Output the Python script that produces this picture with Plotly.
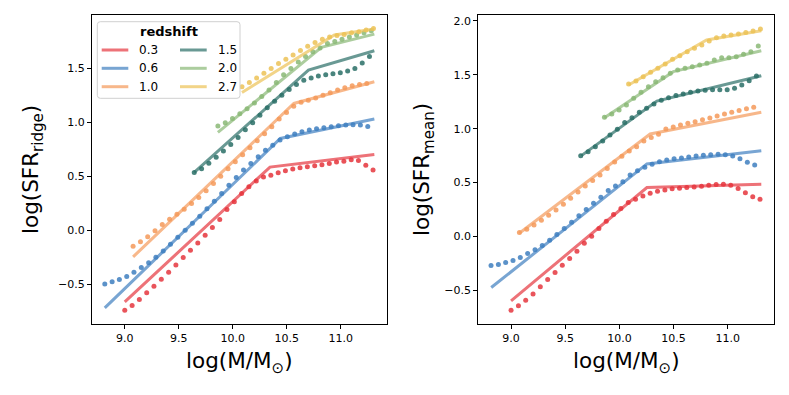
import plotly.graph_objects as go

# Target picture is 789x395; the HTML body adds an 8 px margin, so the figure
# itself is 8 px smaller and every pixel position below is given in page pixels.
PAGE_W, PAGE_H = 789, 395
BODY = 8
W, H = PAGE_W - BODY, PAGE_H - BODY

REDSHIFTS = ["0.3", "0.6", "1.0", "1.5", "2.0", "2.7"]
COLORS = ["#e6373f", "#3f7fc0", "#f59a5a", "#2a6f67", "#8ab976", "#edc357"]

# Stellar-mass bins (log M/Msun), one grid per redshift, shared by both panels
MASS_03 = [9.000, 9.068, 9.135, 9.203, 9.270, 9.338, 9.406, 9.473, 9.541, 9.608,
           9.676, 9.744, 9.811, 9.879, 9.946, 10.014, 10.082, 10.149, 10.217, 10.284,
           10.352, 10.420, 10.487, 10.555, 10.622, 10.690, 10.758, 10.825, 10.893, 10.960,
           11.028, 11.096, 11.163, 11.231, 11.298]
MASS_06 = [8.815, 8.883, 8.950, 9.018, 9.085, 9.153, 9.221, 9.288, 9.356, 9.423,
           9.491, 9.559, 9.626, 9.694, 9.761, 9.829, 9.897, 9.964, 10.032, 10.099,
           10.167, 10.235, 10.302, 10.370, 10.437, 10.505, 10.573, 10.640, 10.708, 10.775,
           10.843, 10.911, 10.978, 11.046, 11.113, 11.181, 11.249]
MASS_10 = [9.077, 9.145, 9.212, 9.280, 9.347, 9.415, 9.483, 9.550, 9.618, 9.685,
           9.753, 9.821, 9.888, 9.956, 10.023, 10.091, 10.159, 10.226, 10.294, 10.361,
           10.429, 10.497, 10.564, 10.632, 10.699, 10.767, 10.835, 10.902, 10.970, 11.037,
           11.105, 11.173, 11.240]
MASS_15 = [9.643, 9.711, 9.778, 9.846, 9.913, 9.981, 10.049, 10.116, 10.184, 10.251,
           10.319, 10.387, 10.454, 10.522, 10.589, 10.657, 10.725, 10.792, 10.860, 10.927,
           10.995, 11.063, 11.130, 11.198, 11.265]
MASS_20 = [9.862, 9.930, 9.997, 10.065, 10.132, 10.200, 10.268, 10.335, 10.403, 10.470,
           10.538, 10.606, 10.673, 10.741, 10.808, 10.876, 10.944, 11.011, 11.079, 11.146,
           11.214, 11.282]
MASS_27 = [10.085, 10.153, 10.220, 10.288, 10.355, 10.423, 10.491, 10.558, 10.626, 10.693,
           10.761, 10.829, 10.896, 10.964, 11.031, 11.099, 11.167, 11.234, 11.302]

# log(SFR_ridge) per mass bin (left panel, dots)
RIDGE_03 = [-0.742, -0.699, -0.643, -0.581, -0.519, -0.455, -0.390, -0.322, -0.253, -0.186,
            -0.118, -0.046, 0.025, 0.099, 0.192, 0.263, 0.340, 0.402, 0.457, 0.494,
            0.510, 0.532, 0.550, 0.566, 0.578, 0.587, 0.597, 0.606, 0.619, 0.631,
            0.640, 0.652, 0.646, 0.603, 0.557]
RIDGE_06 = [-0.498, -0.479, -0.457, -0.430, -0.390, -0.346, -0.303, -0.250, -0.192, -0.130,
            -0.065, 0.000, 0.065, 0.130, 0.198, 0.269, 0.340, 0.417, 0.489, 0.557,
            0.619, 0.680, 0.742, 0.788, 0.835, 0.866, 0.891, 0.912, 0.928, 0.940,
            0.949, 0.958, 0.967, 0.974, 0.977, 0.974, 0.962]
RIDGE_10 = [-0.148, -0.108, -0.062, -0.006, 0.053, 0.102, 0.148, 0.195, 0.247, 0.303,
            0.365, 0.433, 0.500, 0.570, 0.635, 0.700, 0.765, 0.830, 0.895, 0.960,
            1.030, 1.090, 1.150, 1.185, 1.205, 1.225, 1.250, 1.275, 1.300, 1.320,
            1.340, 1.350, 1.360]
RIDGE_15 = [0.535, 0.570, 0.620, 0.675, 0.735, 0.795, 0.860, 0.930, 0.995, 1.065,
            1.135, 1.195, 1.250, 1.305, 1.350, 1.390, 1.410, 1.430, 1.440, 1.450,
            1.460, 1.475, 1.500, 1.550, 1.610]
RIDGE_20 = [0.965, 0.995, 1.035, 1.080, 1.125, 1.180, 1.240, 1.300, 1.370, 1.440,
            1.500, 1.560, 1.610, 1.655, 1.690, 1.730, 1.750, 1.770, 1.790, 1.810,
            1.830, 1.850]
RIDGE_27 = [1.330, 1.370, 1.410, 1.455, 1.500, 1.545, 1.585, 1.625, 1.665, 1.705,
            1.740, 1.770, 1.790, 1.805, 1.815, 1.830, 1.840, 1.855, 1.870]

# log(SFR_mean) per mass bin (right panel, dots)
MEAN_03 = [-0.682, -0.642, -0.589, -0.531, -0.466, -0.398, -0.333, -0.265, -0.204, -0.135,
           -0.061, 0.004, 0.074, 0.142, 0.204, 0.259, 0.315, 0.346, 0.377, 0.402,
           0.420, 0.432, 0.442, 0.448, 0.454, 0.460, 0.467, 0.476, 0.482, 0.485,
           0.476, 0.445, 0.407, 0.370, 0.346]
MEAN_06 = [-0.268, -0.259, -0.241, -0.222, -0.194, -0.157, -0.123, -0.083, -0.033, 0.019,
           0.074, 0.133, 0.194, 0.250, 0.309, 0.365, 0.426, 0.469, 0.509, 0.571,
           0.611, 0.642, 0.670, 0.694, 0.710, 0.722, 0.729, 0.738, 0.747, 0.754,
           0.759, 0.763, 0.759, 0.747, 0.722, 0.689, 0.664]
MEAN_10 = [0.037, 0.068, 0.108, 0.152, 0.198, 0.247, 0.300, 0.355, 0.414, 0.469,
           0.519, 0.570, 0.630, 0.690, 0.745, 0.794, 0.833, 0.886, 0.917, 0.948,
           0.997, 1.016, 1.034, 1.050, 1.065, 1.083, 1.099, 1.118, 1.136, 1.152,
           1.167, 1.185, 1.198]
MEAN_15 = [0.750, 0.787, 0.833, 0.886, 0.942, 0.994, 1.056, 1.102, 1.152, 1.189,
           1.229, 1.263, 1.287, 1.306, 1.321, 1.337, 1.349, 1.356, 1.361, 1.361,
           1.361, 1.374, 1.405, 1.444, 1.488]
MEAN_20 = [1.106, 1.136, 1.173, 1.219, 1.281, 1.337, 1.389, 1.435, 1.472, 1.513,
           1.543, 1.559, 1.574, 1.590, 1.605, 1.636, 1.657, 1.657, 1.667, 1.689,
           1.713, 1.765]
MEAN_27 = [1.414, 1.442, 1.481, 1.522, 1.559, 1.599, 1.642, 1.676, 1.713, 1.744,
           1.775, 1.812, 1.843, 1.858, 1.867, 1.877, 1.892, 1.904, 1.923]

# broken power-law fits: (start, break, end) in mass and SFR
RIDGE_FIT_X = [[9.000, 10.344, 11.31], [8.815, 10.440, 11.31], [9.077, 10.565, 11.31],
               [9.643, 10.700, 11.31], [9.862, 10.820, 11.31], [10.085, 10.940, 11.31]]
RIDGE_FIT_Y = [[-0.665, 0.585, 0.702], [-0.720, 0.850, 1.030], [-0.248, 1.175, 1.376],
               [0.535, 1.484, 1.663], [0.906, 1.695, 1.818], [1.277, 1.810, 1.865]]
MEAN_FIT_X = [[9.000, 10.254, 11.31], [8.817, 10.254, 11.31], [9.076, 10.284, 11.31],
              [9.649, 10.346, 11.31], [9.862, 10.498, 11.31], [10.085, 10.805, 11.31]]
MEAN_FIT_Y = [[-0.595, 0.454, 0.485], [-0.472, 0.673, 0.796], [0.031, 0.951, 1.152],
              [0.750, 1.256, 1.490], [1.100, 1.528, 1.722], [1.405, 1.821, 1.907]]

MASSES = [MASS_03, MASS_06, MASS_10, MASS_15, MASS_20, MASS_27]
RIDGE = [RIDGE_03, RIDGE_06, RIDGE_10, RIDGE_15, RIDGE_20, RIDGE_27]
MEAN = [MEAN_03, MEAN_06, MEAN_10, MEAN_15, MEAN_20, MEAN_27]

X_TICKS = [9.0, 9.5, 10.0, 10.5, 11.0]
FONT = "DejaVu Sans"
LINE_ALPHA = 0.7
DOT_ALPHA = 0.85


def fx(px):
    # page pixel -> paper fraction
    return (px - BODY) / W


def fy(py):
    return 1 - (py - BODY) / H


fig = go.Figure()

# Draw each redshift: fitted line first, then the binned dots on top
panels = [("x", "y", RIDGE, RIDGE_FIT_X, RIDGE_FIT_Y),
          ("x2", "y2", MEAN, MEAN_FIT_X, MEAN_FIT_Y)]
for xa, ya, values, fit_x, fit_y in panels:
    for i, z in enumerate(REDSHIFTS):
        fig.add_trace(go.Scatter(
            x=fit_x[i], y=fit_y[i], mode="lines", xaxis=xa, yaxis=ya,
            line=dict(color=COLORS[i], width=3), opacity=LINE_ALPHA,
            showlegend=False, name=z,
        ))
        fig.add_trace(go.Scatter(
            x=MASSES[i], y=values[i], mode="markers", xaxis=xa, yaxis=ya,
            marker=dict(color=COLORS[i], size=5, line=dict(width=0)),
            opacity=DOT_ALPHA, showlegend=False, name=z,
        ))

axis_style = dict(
    showline=True, mirror=True, linecolor="black", linewidth=1,
    ticks="outside", ticklen=3.5, tickwidth=1, tickcolor="black",
    showgrid=False, zeroline=False, tickformat=".1f",
    tickfont=dict(family=FONT, size=11, color="black"),
)

fig.update_layout(
    width=W, height=H,
    margin=dict(l=0, r=0, t=0, b=0),
    paper_bgcolor="white", plot_bgcolor="white",
    font=dict(family=FONT, color="black"),
    showlegend=False,
    xaxis=dict(domain=[fx(91.5), fx(387.3)], range=[8.692, 11.43],
               tickvals=X_TICKS, anchor="y", **axis_style),
    yaxis=dict(domain=[fy(324), fy(15)], range=[-0.87, 1.995],
               tickvals=[-0.5, 0.0, 0.5, 1.0, 1.5], anchor="x", **axis_style),
    xaxis2=dict(domain=[fx(477.7), fx(774.3)], range=[8.692, 11.43],
                tickvals=X_TICKS, anchor="y2", **axis_style),
    yaxis2=dict(domain=[fy(324), fy(15)], range=[-0.81, 2.053],
                tickvals=[-0.5, 0.0, 0.5, 1.0, 1.5, 2.0], anchor="x2", **axis_style),
)

# Axis titles
titles = [
    ("log(SFR<sub>ridge</sub>)", 32, 170, -90),
    ("log(SFR<sub>mean</sub>)", 423, 170, -90),
    ("log(M/M<sub>⊙</sub>)", 239.4, 362, 0),
    ("log(M/M<sub>⊙</sub>)", 626, 362, 0),
]
for text, px, py, angle in titles:
    fig.add_annotation(text=text, x=fx(px), y=fy(py), xref="paper", yref="paper",
                       showarrow=False, textangle=angle, xanchor="center", yanchor="middle",
                       font=dict(family=FONT, size=21.5, color="black"))


# Legend box (two columns, matplotlib style), drawn by hand
def rounded_box(x0, y0, x1, y1, r):
    pts = [("M", [(x0 + r, y0)]), ("L", [(x1 - r, y0)]), ("Q", [(x1, y0), (x1, y0 + r)]),
           ("L", [(x1, y1 - r)]), ("Q", [(x1, y1), (x1 - r, y1)]), ("L", [(x0 + r, y1)]),
           ("Q", [(x0, y1), (x0, y1 - r)]), ("L", [(x0, y0 + r)]), ("Q", [(x0, y0), (x0 + r, y0)])]
    out = []
    for cmd, coords in pts:
        out.append(cmd + " ".join(f"{fx(a):.5f},{fy(b):.5f}" for a, b in coords))
    return " ".join(out) + " Z"


fig.add_shape(type="path", path=rounded_box(97.3, 21.7, 240, 98.3, 3),
              xref="paper", yref="paper", layer="above",
              fillcolor="rgba(255,255,255,0.8)", line=dict(color="#d0d0d0", width=1))
fig.add_annotation(text="<b>redshift</b>", x=fx(169), y=fy(31.7), xref="paper", yref="paper",
                   showarrow=False, xanchor="center", yanchor="middle",
                   font=dict(family=FONT, size=13, color="black"))

col_lines = [(101.7, 128.3, 136.7), (180, 206.7, 216)]
row_y = [50, 68.3, 86.7]
for i, z in enumerate(REDSHIFTS):
    col, row = divmod(i, 3)
    lx0, lx1, tx = col_lines[col]
    ly = row_y[row]
    fig.add_shape(type="line", x0=fx(lx0), x1=fx(lx1), y0=fy(ly), y1=fy(ly),
                  xref="paper", yref="paper", layer="above", opacity=LINE_ALPHA,
                  line=dict(color=COLORS[i], width=3))
    fig.add_annotation(text=z, x=fx(tx), y=fy(ly), xref="paper", yref="paper",
                       showarrow=False, xanchor="left", yanchor="middle",
                       font=dict(family=FONT, size=12, color="black"))

fig.write_html("out.html")
